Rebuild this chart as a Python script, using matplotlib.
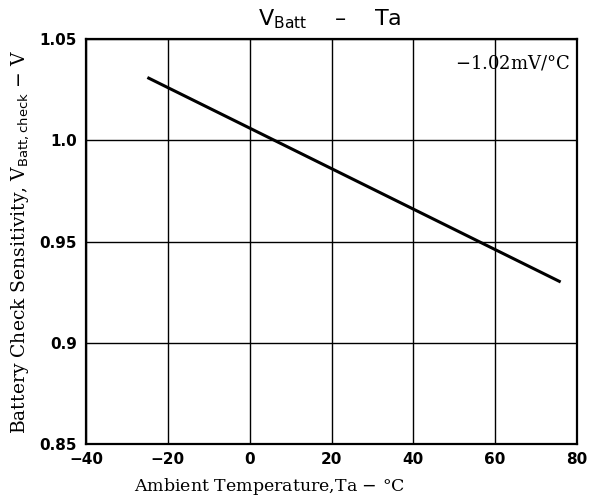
import matplotlib
matplotlib.use("Agg")
import matplotlib.pyplot as plt

# data
temp = [-25, 76]
vbatt = [1.031, 0.930]
x_ticks = [-40, -20, 0, 20, 40, 60, 80]
y_ticks = [0.85, 0.9, 0.95, 1.0, 1.05]
y_tick_labels = ["0.85", "0.9", "0.95", "1.0", "1.05"]

fig = plt.figure(figsize=(5.94, 4.98), dpi=100)
ax = fig.add_axes([0.1448, 0.1084, 0.8266, 0.8133])

ax.plot(temp, vbatt, color="black", lw=2.2, solid_capstyle="butt")

ax.set_xlim(-40, 80)
ax.set_ylim(0.85, 1.05)
ax.set_xticks(x_ticks)
ax.set_yticks(y_ticks)
ax.set_yticklabels(y_tick_labels)
ax.tick_params(length=0, labelsize=11)
ax.tick_params(axis="x", pad=6)
ax.tick_params(axis="y", pad=6.5)
for lbl in ax.get_xticklabels() + ax.get_yticklabels():
    lbl.set_fontweight("bold")
ax.grid(True, color="black", lw=1.0)
for s in ax.spines.values():
    s.set_linewidth(1.6)

ax.set_xlabel("Ambient Temperature,Ta $-$ \u00b0C", family="DejaVu Serif",
              fontsize=12.5, va="top")
ax.xaxis.set_label_coords(0.373, -0.078)
ax.set_ylabel("Battery Check Sensitivity, V$_{\\mathrm{Batt,check}}$ $-$ V",
              family="DejaVu Serif", fontsize=13.5)
ax.yaxis.set_label_coords(-0.112, 0.5)

fig.text(0.555, 0.962, "V$_{\\mathrm{Batt}}$    \u2013    Ta", ha="center", va="center",
         fontsize=16)
ax.text(0.985, 0.965, "$-$1.02mV/\u00b0C", transform=ax.transAxes, ha="right",
        va="top", fontsize=13, family="DejaVu Serif")

fig.savefig("out.png", dpi=100)
